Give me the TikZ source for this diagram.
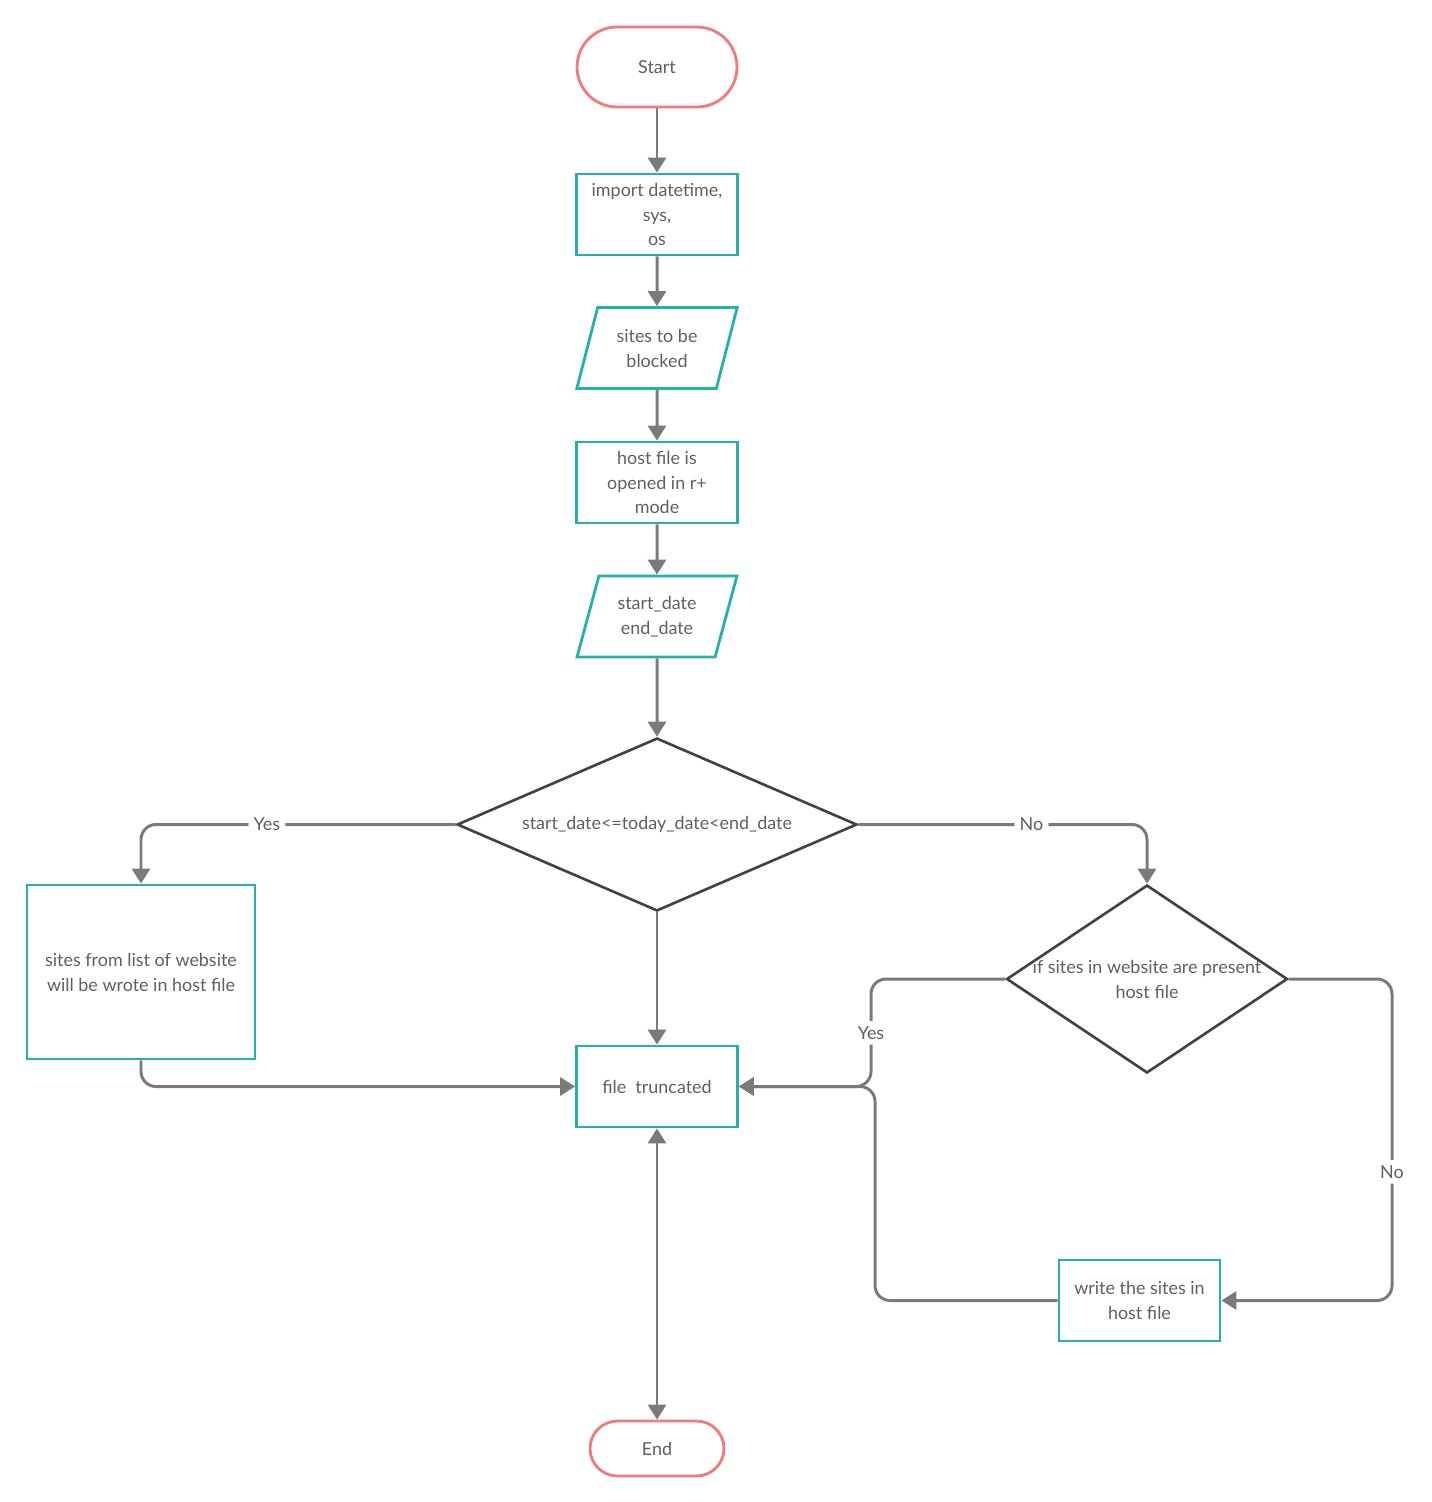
\documentclass[tikz,border=0pt]{standalone}
\usepackage{fontspec}
\setmainfont{Lato}
\usetikzlibrary{positioning,arrows.meta,shapes.geometric}
\definecolor{termred}{RGB}{242,122,122}
\definecolor{boxteal}{RGB}{38,176,173}
\definecolor{linegray}{RGB}{122,122,122}
\definecolor{diagray}{RGB}{66,66,66}
\definecolor{txtgray}{RGB}{95,95,95}

\begin{document}
\begin{tikzpicture}[x=0.02cm,y=-0.02cm,every node/.style={text=txtgray,font=\fontsize{10.2}{14.2}\selectfont}]
 \tikzset{arrow/.style={draw=linegray,line width=1.7pt,rounded corners=0.3cm,-{Triangle[length=0.3cm,width=0.36cm]}},
  twoway/.style={arrow,{Triangle[length=0.3cm,width=0.36cm]}-{Triangle[length=0.3cm,width=0.36cm]}},
  term/.style={draw=termred,line width=1.6pt,rounded corners=0.8cm,minimum width=3.2cm,minimum height=1.6cm},
  procbox/.style={draw=boxteal,line width=1.6pt,minimum width=3.22cm,minimum height=1.62cm,align=center},
  io/.style={trapezium,trapezium left angle=72,trapezium right angle=108,trapezium stretches=true,draw=boxteal,line width=1.6pt,minimum width=3.22cm,minimum height=1.62cm,align=center},
  decision/.style={diamond,draw=diagray,line width=1.5pt,inner sep=0pt,align=center},
  lbl/.style={fill=white,inner sep=3pt}}
 \useasboundingbox (0,0) rectangle (1431,1502);
 \node[term] (start) at (657,67) {Start};
 \node[procbox] (imp) at (657,214.5) {import datetime,\\sys,\\os};
 \node[io] (sites) at (657,348) {sites to be\\blocked};
 \node[procbox] (host) at (657,482.5) {host file is\\opened in r+\\mode};
 \node[io] (dates) at (657,616.5) {start\_date\\end\_date};
 \node[decision,minimum width=8cm,minimum height=3.46cm,aspect=2.31] (dec) at (657,824.5) {start\_date<=today\_date<end\_date};
 \node[procbox,minimum width=4.56cm,minimum height=3.48cm] (listbox) at (141,972) {sites from list of website\\will be wrote in host file};
 \node[procbox] (trunc) at (657,1086.5) {file\ \ truncated};
 \node[decision,minimum width=5.62cm,minimum height=3.76cm,label={[align=center]center:if sites in website are present\\host file}] (check) at (1147,979) {};
 \node[procbox] (write) at (1139.5,1300.5) {write the sites in\\host file};
 \node[term,minimum width=2.68cm,minimum height=1.1cm,rounded corners=0.55cm] (stop) at (657,1448.5) {End};

 \coordinate (ybend) at (871,1086.5);
 \coordinate (wbend) at (875,1086.5);
 \coordinate (nbend) at (1392,1300.5);

 \draw[arrow] (start) -- (imp);
 \draw[arrow] (imp) -- (sites);
 \draw[arrow] (sites) -- (host);
 \draw[arrow] (host) -- (dates);
 \draw[arrow] (dates) -- (dec);
 \draw[arrow] (dec.west) -| node[lbl,pos=0.3] {Yes} (listbox.north);
 \draw[arrow] (dec.east) -| node[lbl,pos=0.3] {No} (check.north);
 \draw[arrow] (dec.south) -- (trunc.north);
 \draw[arrow] (listbox.south) |- (trunc.west);
 \draw[arrow] (check.west) -| node[lbl,pos=0.75] {Yes} (ybend) -- (trunc.east);
 \draw[arrow] (write.west) -| (wbend) -- (trunc.east);
 \draw[arrow] (check.east) -| node[lbl,pos=0.8] {No} (nbend) -- (write.east);
 \draw[twoway] (trunc.south) -- (stop.north);
\end{tikzpicture}
\end{document}
